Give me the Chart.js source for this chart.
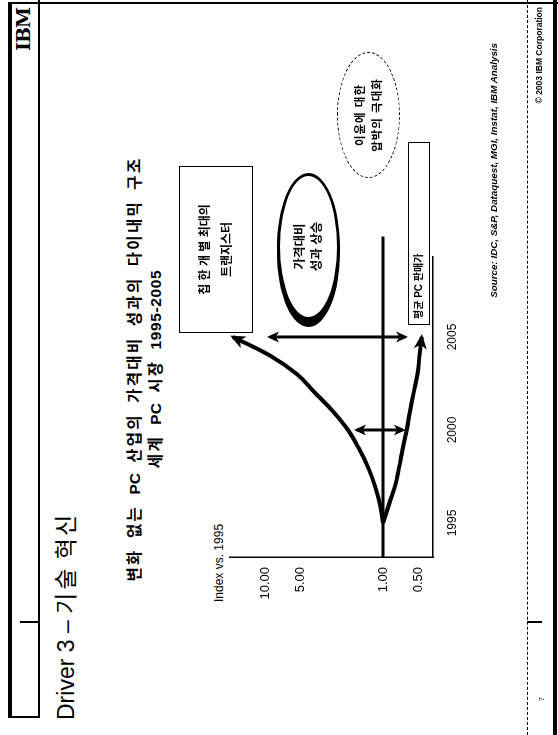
<!DOCTYPE html>
<html>
<head>
<meta charset="utf-8">
<script src="https://cdn.jsdelivr.net/npm/chart.js@4/dist/chart.umd.min.js"></script>
<style>
html, body { margin: 0; padding: 0; background: #fff; width: 558px; height: 735px; overflow: hidden; }
/* slide is laid out landscape and turned on its side */
#slide {
    position: absolute; left: 0; top: 0; width: 735px; height: 558px;
    transform-origin: 0 0; transform: translateY(735px) rotate(-90deg);
    font-family: 'Liberation Sans', Arial, 'Noto Sans CJK KR', sans-serif; color: #000;
}
#slide canvas { position: absolute; left: 0; top: 0; }
.abs { position: absolute; white-space: nowrap; }
.rule { position: absolute; background: #000; }
.kr { font-family: 'Liberation Sans', Arial, 'Noto Sans CJK KR', sans-serif; font-weight: bold; }
.sp { letter-spacing: 2.3px; }
</style>
</head>
<body>
<div id="slide">
    <!-- frame -->
    <div class="rule" style="left:17px; top:8px; width:715px; height:4px;"></div>
    <div class="rule" style="left:17px; top:38px; width:718px; height:1.5px;"></div>
    <div class="rule" style="left:17px; top:8px; width:1.5px; height:32px;"></div>
    <div class="rule" style="left:731px; top:8px; width:1.5px; height:550px;"></div>
    <div class="rule" style="left:0; top:553px; width:735px; height:4px;"></div>
    <div class="rule" style="left:112px; top:20px; width:1.5px; height:18px;"></div>
    <div class="rule" style="left:112px; top:527px; width:1.5px; height:15px;"></div>
    <div class="abs" style="left:0; top:527px; width:735px; border-top:1px dashed #000;"></div>

    <div class="abs" style="left:684px; top:12px; font:bold 19px 'DejaVu Serif', serif; letter-spacing:-1px;">IBM</div>

    <div class="abs" style="left:15px; top:47px; font-size:23px;">Driver 3 – <span style="letter-spacing:3px;">기술</span> <span style="letter-spacing:2px;">혁신</span></div>

    <div class="abs kr" style="left:150px; top:124px; width:432px; text-align:center; font-size:15.5px; line-height:21px; word-spacing:6px;">
        <span class="sp">변화</span> <span class="sp">없는</span> PC <span class="sp">산업의</span> <span class="sp">가격대비</span> <span class="sp">성과의</span> <span class="sp">다이내믹</span> <span class="sp">구조</span><br><span class="sp">세계</span> PC <span class="sp">시장</span> <span style="letter-spacing:0.6px;">1995-2005</span>
    </div>

    <div class="abs" style="left:133px; top:212px; font-size:12px;">Index vs. 1995</div>

    <canvas id="myChart" width="735" height="558"></canvas>

    <!-- callouts -->
    <div class="abs kr" style="left:402px; top:179px; width:165px; height:72px; border:1.5px solid #000; background:#fff; font-size:12px; line-height:22px; text-align:center; display:flex; flex-direction:column; justify-content:center;">
        <div>칩 한 개 별 최대의</div><div>트랜지스터</div>
    </div>
    <div class="abs kr" style="left:415px; top:277px; width:141px; height:57px; border:3px solid #000; border-radius:50%; background:#fff; box-shadow:-7px 0 0 #000; font-size:12.5px; line-height:17px; text-align:center; display:flex; flex-direction:column; justify-content:center;">
        <div>가격대비</div><div>성과 상승</div>
    </div>
    <div class="abs kr" style="left:557px; top:337px; width:124px; height:61px; border:1px dashed #000; border-radius:50%; font-size:11.5px; line-height:17px; letter-spacing:1px; text-align:center; display:flex; flex-direction:column; justify-content:center;">
        <div>이윤에 대한</div><div>압박의 극대화</div>
    </div>
    <div class="abs kr" style="left:410px; top:408px; width:176px; height:20px; border:1px solid #000; background:#fff; font-size:10px; line-height:20px; padding-left:5px; box-sizing:content-box;">평균 PC 판매가</div>

    <div class="abs" style="left:432px; top:488px; width:260px; text-align:right; font:italic bold 9.8px 'Liberation Sans', Arial, sans-serif;">Source: IDC, S&amp;P, Dataquest, MGI, Instat, IBM Analysis</div>
    <div class="abs" style="left:600px; top:534px; width:128px; text-align:right; font:bold 8.5px 'Liberation Sans', Arial, sans-serif;">© 2003 IBM Corporation</div>
    <div class="abs" style="left:34px; top:538px; font-size:7px;">7</div>
</div>

<script>
// yearly index readings (1995 = 1.00)
const years = [1995, 1996, 1997, 1998, 1999, 2000, 2001, 2002, 2003, 2004, 2005];
const chipIndex = [1.00, 1.06, 1.17, 1.34, 1.60, 1.98, 2.65, 3.77, 5.36, 9.07, 18.7];
const priceIndex = [1.00, 0.89, 0.79, 0.73, 0.68, 0.63, 0.59, 0.55, 0.51, 0.49, 0.47];

// gap arrows between the two curves
const gapYears = [2000, 2005];
const gapTop = [1.66, 9.06];
const gapBottom = [0.68, 0.65];

// reference line at 1.00
const baseYears = [1993.17, 2010.4];
const baseValue = 1.00;

const yTicks = [0.5, 1, 5, 10];
const xTicks = [1995, 2000, 2005];

const toXY = (xs, ys) => xs.map((x, i) => ({ x: x, y: ys[i] }));

//
// arrow heads at line ends
//
function drawHead(ctx, tip, dx, dy, len, wid) {
    const d = Math.hypot(dx, dy) || 1;
    const ux = dx / d, uy = dy / d;
    const px = -uy, py = ux;
    const tx = tip.x + ux * 3, ty = tip.y + uy * 3;
    const bx = tx - ux * len, by = ty - uy * len;
    ctx.beginPath();
    ctx.moveTo(tx, ty);
    ctx.lineTo(bx + px * wid / 2, by + py * wid / 2);
    ctx.lineTo(tx - ux * len * 0.72, ty - uy * len * 0.72);
    ctx.lineTo(bx - px * wid / 2, by - py * wid / 2);
    ctx.closePath();
    ctx.fill();
}

const arrowHeads = {
    id: 'arrowHeads',
    afterDatasetsDraw(chart) {
        const ctx = chart.ctx;
        chart.data.datasets.forEach((ds, i) => {
            if (!ds.arrow) return;
            const pts = chart.getDatasetMeta(i).data;
            const n = pts.length;
            const last = pts[n - 1], prev = pts[n - 2];
            ctx.save();
            ctx.fillStyle = ds.borderColor;
            drawHead(ctx, last, last.x - prev.x, last.y - prev.y, ds.arrowLen, ds.arrowWid);
            if (ds.arrow === 'both') {
                drawHead(ctx, pts[0], pts[0].x - pts[1].x, pts[0].y - pts[1].y, ds.arrowLen, ds.arrowWid);
            }
            ctx.restore();
        });
    }
};

const lineDefaults = { borderColor: '#000', pointRadius: 0, fill: false };

var myChart = new Chart(document.getElementById('myChart').getContext('2d'), {
    type: 'line',
    data: {
        datasets: [
            Object.assign({ label: 'chip', data: toXY(years, chipIndex), borderWidth: 4, tension: 0.4, arrow: 'end', arrowLen: 15, arrowWid: 13, clip: false }, lineDefaults),
            Object.assign({ label: 'price', data: toXY(years, priceIndex), borderWidth: 4, tension: 0.4, arrow: 'end', arrowLen: 15, arrowWid: 13, clip: false }, lineDefaults),
            Object.assign({ label: 'base', data: toXY(baseYears, [baseValue, baseValue]), borderWidth: 3, clip: false }, lineDefaults),
            Object.assign({ label: 'gap2000', data: toXY([gapYears[0], gapYears[0]], [gapTop[0], gapBottom[0]]), borderWidth: 3, arrow: 'both', arrowLen: 12, arrowWid: 11, clip: false }, lineDefaults),
            Object.assign({ label: 'gap2005', data: toXY([gapYears[1], gapYears[1]], [gapTop[1], gapBottom[1]]), borderWidth: 3, arrow: 'both', arrowLen: 12, arrowWid: 11, clip: false }, lineDefaults),
        ]
    },
    options: {
        responsive: false,
        animation: false,
        devicePixelRatio: 1,
        layout: { padding: { left: 118, right: 257, top: 230, bottom: 85 } },
        plugins: { legend: { display: false }, tooltip: { enabled: false } },
        scales: {
            x: {
                type: 'linear',
                min: 1993.17,
                max: 2009.3,
                grid: { display: false, drawTicks: false },
                border: { color: '#000', width: 1.5 },
                ticks: {
                    autoSkip: false, padding: 12, color: '#000',
                    font: { family: "'Liberation Sans', Arial, sans-serif", size: 12 },
                    callback: v => String(v)
                },
                afterBuildTicks: s => { s.ticks = xTicks.map(v => ({ value: v })); },
                afterFit: s => { s.height = 40; }
            },
            y: {
                type: 'logarithmic',
                min: 0.377,
                max: 19.8,
                grid: { display: false, drawTicks: false },
                border: { color: '#000', width: 1.5 },
                ticks: {
                    autoSkip: false, padding: 10, color: '#000',
                    font: { family: "'Liberation Sans', Arial, sans-serif", size: 13 },
                    callback: v => Number(v).toFixed(2)
                },
                afterBuildTicks: s => { s.ticks = yTicks.map(v => ({ value: v })); },
                afterFit: s => { s.width = 60; }
            }
        }
    },
    plugins: [arrowHeads]
});
</script>
</body>
</html>
